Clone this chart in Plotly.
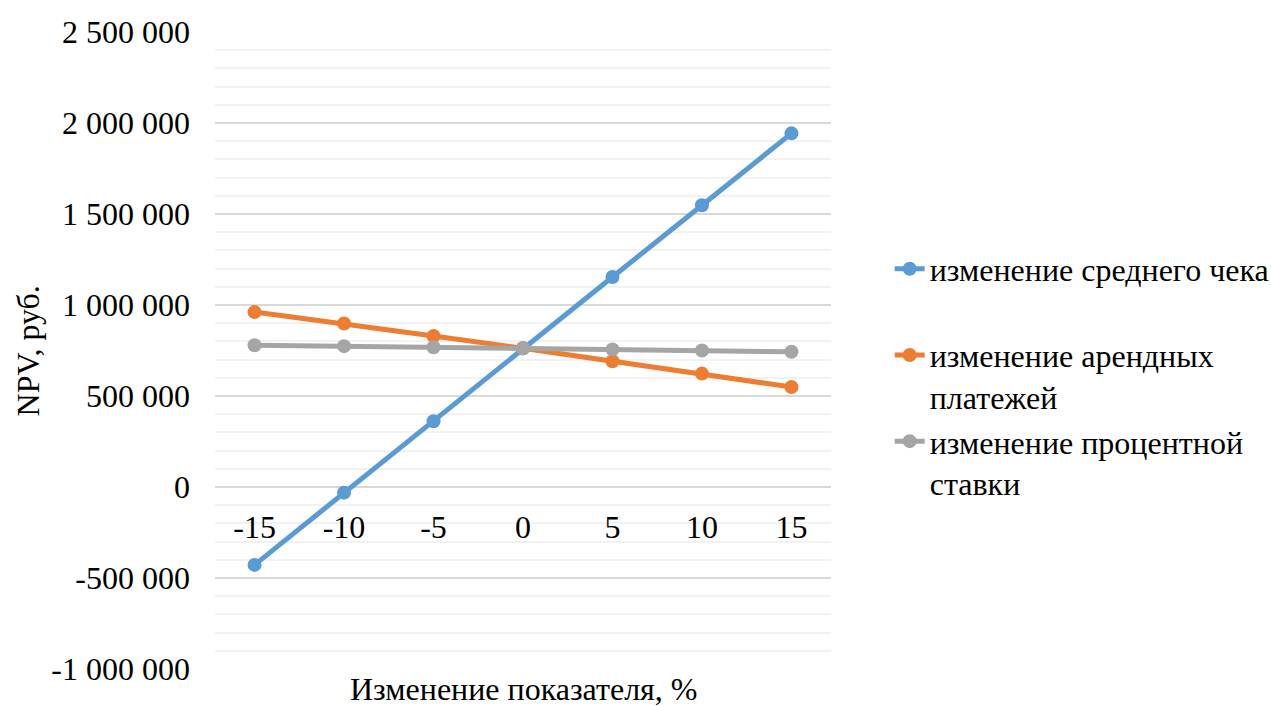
import plotly.graph_objects as go

# Sensitivity of NPV to a change in each input, %
change_pct = ["-15", "-10", "-5", "0", "5", "10", "15"]

npv_avg_check = [-428000, -31000, 361000, 762000, 1154000, 1548000, 1943000]
npv_rent = [961000, 898000, 830000, 762000, 691000, 623000, 549000]
npv_rate = [779000, 774000, 768000, 762000, 756000, 750000, 743000]

series_names = [
    "изменение среднего чека<br>\u00a0",
    "изменение арендных<br>платежей",
    "изменение процентной<br>ставки",
]
series_colors = ["#5B9BD5", "#ED7D31", "#A5A5A5"]

y_tick_vals = [-1000000, -500000, 0, 500000, 1000000, 1500000, 2000000, 2500000]
y_tick_text = ["-1 000 000", "-500 000", "0", "500 000", "1 000 000",
               "1 500 000", "2 000 000", "2 500 000"]
y_minor_vals = [v * 100000 for v in range(-10, 26)]

FONT = "Liberation Serif, Times New Roman, serif"
FS = 32

fig = go.Figure()
for name, vals, color in zip(series_names, [npv_avg_check, npv_rent, npv_rate], series_colors):
    fig.add_trace(go.Scatter(
        x=change_pct, y=vals, name=name, mode="lines+markers",
        line=dict(color=color, width=5),
        marker=dict(color=color, size=14),
        legendgroup=name,
    ))

fig.update_layout(
    width=1271, height=706,
    margin=dict(l=215, r=440, t=32, b=37),
    paper_bgcolor="white", plot_bgcolor="white",
    font=dict(family=FONT, size=FS, color="#000000"),
    showlegend=True,
    legend=dict(
        xref="container", yref="container",
        x=0.700, y=0.658, xanchor="left", yanchor="top",
        valign="top", traceorder="grouped", tracegroupgap=0,
        font=dict(family=FONT, size=FS, color="#000000"),
        bgcolor="rgba(0,0,0,0)",
    ),
    xaxis=dict(
        type="category",
        anchor="free", position=2 / 7,
        showgrid=False, showline=False, zeroline=False,
        ticks="", ticklabelstandoff=18,
        tickfont=dict(family=FONT, size=FS),
    ),
    yaxis=dict(
        range=[-1000000, 2500000],
        tickmode="array", tickvals=y_tick_vals, ticktext=y_tick_text,
        showgrid=True, gridcolor="#D9D9D9", gridwidth=1.5,
        zeroline=False, showline=False, ticks="",
        ticklabelstandoff=24,
        tickfont=dict(family=FONT, size=FS),
        minor=dict(tickmode="array", tickvals=y_minor_vals,
                   showgrid=True, gridcolor="#F2F2F2", gridwidth=1.5),
    ),
    annotations=[
        dict(text="NPV, руб.", xref="paper", yref="paper",
             x=-0.3036, y=0.5, xanchor="center", yanchor="middle",
             textangle=-90, showarrow=False,
             font=dict(family=FONT, size=FS)),
        dict(text="Изменение показателя, %", xref="paper", yref="paper",
             x=0.5, y=-0.032, xanchor="center", yanchor="middle",
             showarrow=False, font=dict(family=FONT, size=FS)),
    ],
)

fig.write_html("out.html")
